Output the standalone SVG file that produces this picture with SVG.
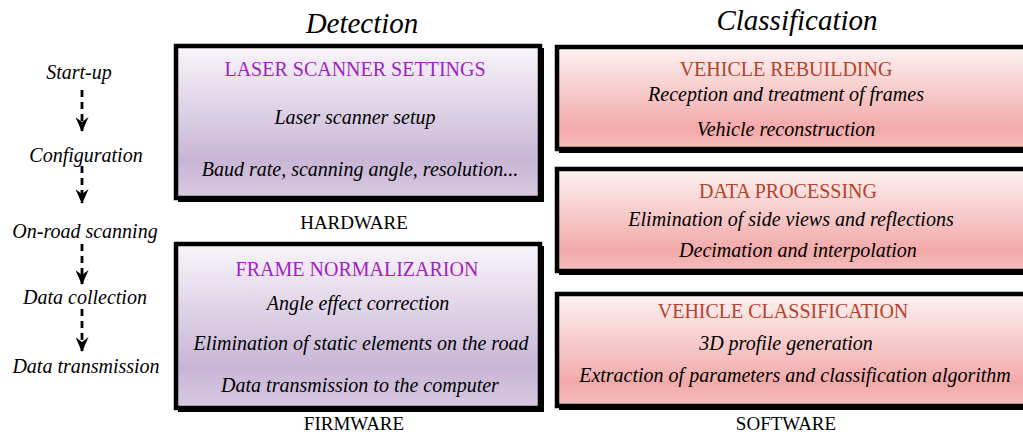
<svg xmlns="http://www.w3.org/2000/svg" width="1023" height="435" viewBox="0 0 1023 435">
<defs>
<linearGradient id="gp" x1="0" y1="0" x2="0" y2="1">
<stop offset="0" stop-color="#f8f5fa"/>
<stop offset="0.75" stop-color="#c9b6d6"/>
<stop offset="1" stop-color="#d8cae2"/>
</linearGradient>
<linearGradient id="gr" x1="0" y1="0" x2="0" y2="1">
<stop offset="0" stop-color="#fdf2f2"/>
<stop offset="0.8" stop-color="#f2a9a9"/>
<stop offset="1" stop-color="#f6bebe"/>
</linearGradient>
<marker id="ah" markerWidth="15" markerHeight="13" viewBox="0 0 15 13" refX="14" refY="6.5" orient="auto" markerUnits="userSpaceOnUse">
<path d="M0,0 L5,6.5 L0,13 L15,6.5 Z" fill="#000"/>
</marker>
</defs>
<style>
.box{stroke:#000;stroke-width:4.5}
.sh{fill:#000}
.head{font-family:"Liberation Serif",serif;font-style:italic;font-size:29px;fill:#000;text-anchor:middle}
.step{font-family:"Liberation Serif",serif;font-style:italic;font-size:20px;fill:#000;text-anchor:middle}
.tp{font-family:"Liberation Serif",serif;font-size:20px;fill:#a21fc2;text-anchor:middle}
.tr{font-family:"Liberation Serif",serif;font-size:20px;fill:#b5432a;text-anchor:middle}
.body{font-family:"Liberation Serif",serif;font-style:italic;font-size:20px;fill:#000;text-anchor:middle}
.lbl{font-family:"Liberation Serif",serif;font-size:19px;fill:#000;text-anchor:middle}
.arr{stroke:#000;stroke-width:2.8;stroke-dasharray:7 5;fill:none}
</style>
<text class="head" x="362" y="33">Detection</text>
<text class="head" x="797" y="30">Classification</text>
<g id="steps">
<text class="step" x="79" y="79">Start-up</text>
<text class="step" x="86" y="162">Configuration</text>
<text class="step" x="85" y="238">On-road scanning</text>
<text class="step" x="85" y="304">Data collection</text>
<text class="step" x="86" y="373">Data transmission</text>
</g>
<g id="connectors">
<line class="arr" x1="82" y1="90" x2="82" y2="131" marker-end="url(#ah)"/>
<line class="arr" x1="82" y1="166" x2="82" y2="203" marker-end="url(#ah)"/>
<line class="arr" x1="82" y1="244" x2="82" y2="284" marker-end="url(#ah)"/>
<line class="arr" x1="82" y1="309" x2="82" y2="351" marker-end="url(#ah)"/>
</g>
<g id="laser">
<rect class="sh" x="178" y="48" width="366" height="154"/>
<rect class="box" x="176" y="46" width="364" height="152" fill="url(#gp)"/>
<text class="tp" x="355" y="76">LASER SCANNER SETTINGS</text>
<text class="body" x="355" y="124">Laser scanner setup</text>
<text class="body" x="360" y="176">Baud rate, scanning angle, resolution...</text>
</g>
<text class="lbl" x="354" y="229">HARDWARE</text>
<g id="frame">
<rect class="sh" x="178" y="246" width="366" height="166"/>
<rect class="box" x="176" y="244" width="364" height="164" fill="url(#gp)"/>
<text class="tp" x="357" y="276">FRAME NORMALIZARION</text>
<text class="body" x="358" y="310">Angle effect correction</text>
<text class="body" x="361" y="350">Elimination of static elements on the road</text>
<text class="body" x="360" y="392">Data transmission to the computer</text>
</g>
<text class="lbl" x="354" y="430">FIRMWARE</text>
<g id="rebuild">
<rect class="sh" x="559" y="49" width="480" height="104"/>
<rect class="box" x="557" y="47" width="480" height="102" fill="url(#gr)"/>
<text class="tr" x="786" y="76">VEHICLE REBUILDING</text>
<text class="body" x="786" y="101">Reception and treatment of frames</text>
<text class="body" x="786" y="136">Vehicle reconstruction</text>
</g>
<g id="processing">
<rect class="sh" x="559" y="171" width="480" height="104"/>
<rect class="box" x="557" y="169" width="480" height="102" fill="url(#gr)"/>
<text class="tr" x="788" y="198">DATA PROCESSING</text>
<text class="body" x="791" y="226">Elimination of side views and reflections</text>
<text class="body" x="798" y="257">Decimation and interpolation</text>
</g>
<g id="classif">
<rect class="sh" x="559" y="296" width="480" height="114"/>
<rect class="box" x="557" y="294" width="480" height="112" fill="url(#gr)"/>
<text class="tr" x="783" y="318">VEHICLE CLASSIFICATION</text>
<text class="body" x="786" y="350">3D profile generation</text>
<text class="body" x="795" y="382">Extraction of parameters and classification algorithm</text>
</g>
<text class="lbl" x="786" y="430">SOFTWARE</text>
</svg>
